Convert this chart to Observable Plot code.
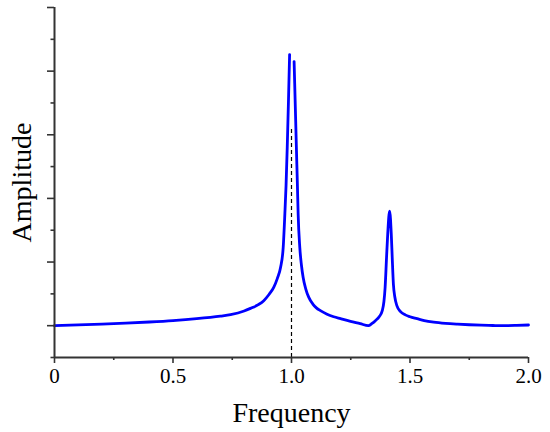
<!DOCTYPE html>
<html><head><meta charset="utf-8">
<script src="https://cdn.jsdelivr.net/npm/d3@7"></script>
<script src="https://cdn.jsdelivr.net/npm/@observablehq/plot@0.6"></script>
<style>body{margin:0;background:#fff} svg{display:block}</style>
</head><body><div id="chart"></div>
<script>
// Frequency response (null = gap between the two branches at the main resonance)
const freq = [0, 0.1, 0.2, 0.3, 0.4, 0.5, 0.6, 0.7, 0.743, 0.8, 0.827, 0.86, 0.883, 0.905, 0.925, 0.94, 0.954, 0.965, 0.972, 0.977, 0.982, 0.987, 0.992,
  1.0,
  1.011, 1.016, 1.021, 1.025, 1.028, 1.035, 1.042, 1.049, 1.06, 1.073, 1.09, 1.105, 1.122, 1.15, 1.178, 1.207, 1.249, 1.29, 1.324,
  1.34, 1.354, 1.37, 1.383, 1.39, 1.395, 1.401, 1.406, 1.414, 1.421, 1.425, 1.43, 1.436, 1.445, 1.46, 1.48, 1.5, 1.53, 1.56, 1.6, 1.65, 1.7, 1.75, 1.8, 1.85, 1.88, 1.95, 2.0];
const amp = [0, 0.012, 0.025, 0.04, 0.058, 0.08, 0.11, 0.15, 0.173, 0.23, 0.272, 0.33, 0.393, 0.49, 0.602, 0.74, 0.917, 1.23, 1.76, 2.2, 2.8, 3.5, 4.26,
  null,
  4.15, 3.45, 2.75, 2.2, 1.76, 1.23, 0.95, 0.76, 0.58, 0.445, 0.34, 0.28, 0.236, 0.18, 0.14, 0.11, 0.068, 0.032, 0.0,
  0.035, 0.079, 0.14, 0.236, 0.38, 0.6, 1.07, 1.44, 1.80, 1.44, 1.07, 0.65, 0.45, 0.31, 0.22, 0.17, 0.14, 0.11, 0.08, 0.055, 0.036, 0.024, 0.015, 0.008, 0.003, 0.0, 0.005, 0.011];

const xMajorTicks = [0, 0.5, 1.0, 1.5, 2.0];
const xTickLabels = ["0", "0.5", "1.0", "1.5", "2.0"];
const xMinorTicks = [0.25, 0.75, 1.25, 1.75];
const yMajorTicks = [0, 1, 2, 3, 4, 5];
const yMinorTicks = [-0.5, 0.5, 1.5, 2.5, 3.5, 4.5];
const refFreq = [1.0];
const refTop = 3.1;
const xLabel = ["Frequency"];
const yLabel = ["Amplitude"];

const data = freq.map((f, i) => ({f, a: amp[i]}));
const font = "'Liberation Serif', 'Times New Roman', serif";

const chart = Plot.plot({
  width: 550, height: 432,
  marginLeft: 54, marginRight: 22, marginTop: 7, marginBottom: 75,
  style: {fontFamily: font, background: "#fff", color: "#000"},
  x: {domain: [0, 2]},
  y: {domain: [-0.5, 5]},
  marks: [
    Plot.ruleX(refFreq, {y1: -0.5, y2: refTop, stroke: "#000", strokeWidth: 1.2, strokeDasharray: "4,3"}),
    Plot.line(data, {x: "f", y: "a", stroke: "#0000ff", strokeWidth: 2.8, curve: "monotone-x"}),
    Plot.ruleY([-0.5], {stroke: "#333", strokeWidth: 2}),
    Plot.ruleX([0], {stroke: "#333", strokeWidth: 2}),
    Plot.axisX(xMajorTicks, {tickSize: 6, tickPadding: 5, fontSize: 21, strokeWidth: 1.6, stroke: "#333",
      tickFormat: d => xTickLabels[xMajorTicks.indexOf(d)], label: null}),
    Plot.axisX(xMinorTicks, {tickSize: 3, strokeWidth: 1.6, stroke: "#333", text: null, label: null}),
    Plot.axisY(yMajorTicks, {tickSize: 7, strokeWidth: 1.6, stroke: "#333", text: null, label: null}),
    Plot.axisY(yMinorTicks, {tickSize: 3.5, strokeWidth: 1.6, stroke: "#333", text: null, label: null}),
    Plot.text(xLabel, {text: d => d, frameAnchor: "bottom", dy: 56, fontSize: 28, textAnchor: "middle", lineAnchor: "middle", fill: "#000"}),
    Plot.text(yLabel, {text: d => d, frameAnchor: "left", rotate: -90, dx: -32, fontSize: 28, textAnchor: "middle", lineAnchor: "middle", fill: "#000"})
  ]
});
document.getElementById("chart").appendChild(chart);
</script>
</body></html>
